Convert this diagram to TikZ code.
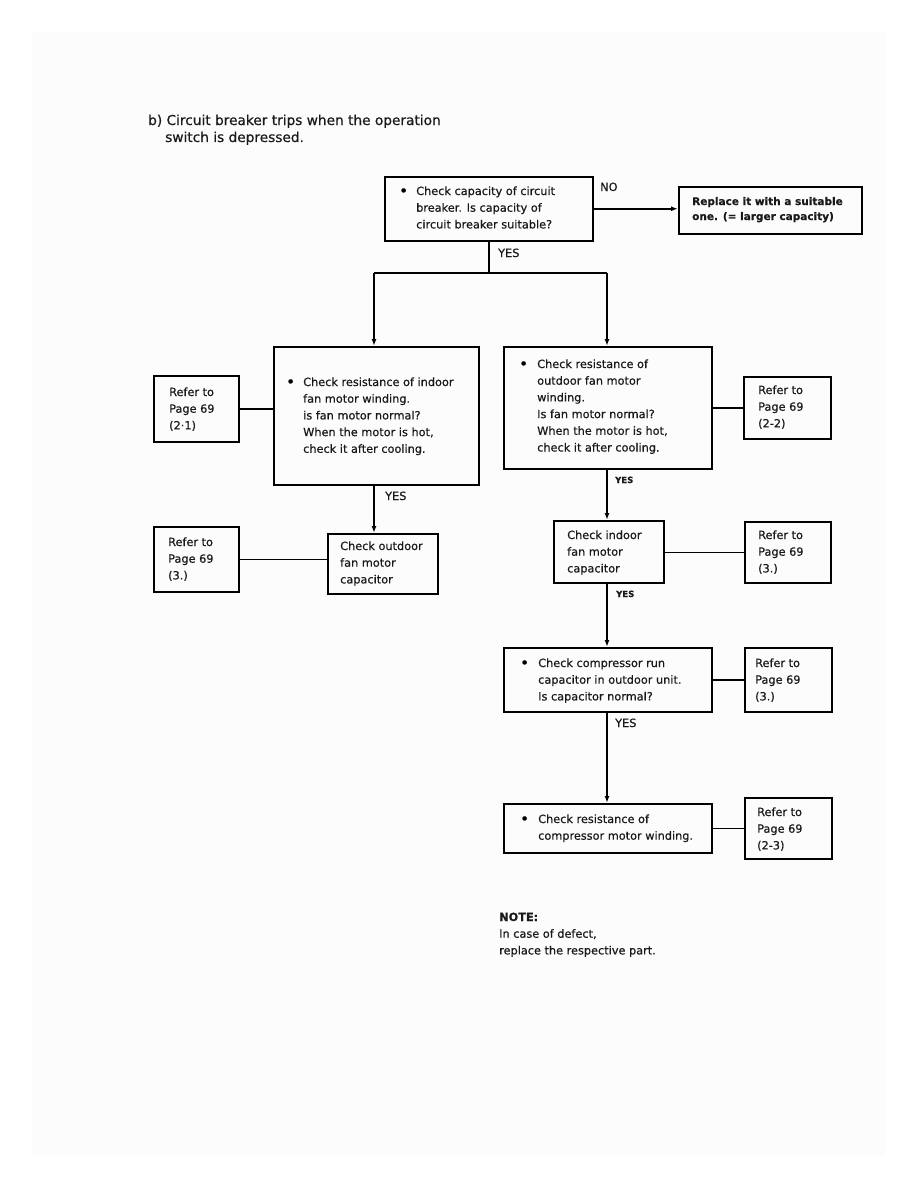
\documentclass[tikz,border=0pt]{standalone}
\usepackage{fontspec}
\setmainfont{DejaVu Sans}[FakeBold=0.5]
\usetikzlibrary{arrows.meta}
\newcommand{\mytab}[1]{\begin{tabular}[t]{@{}l@{}}#1\end{tabular}}
\tikzset{
  box/.style={draw=black, line width=1.5pt, inner sep=0pt, anchor=north west},
  txt/.style={anchor=base west, inner sep=0pt, font=\fontsize{11.3}{16.7}\selectfont, text=black!90},
  bul/.style={anchor=base west, inner sep=0pt, font=\fontsize{15}{16}\selectfont, text=black},
  bold/.style={anchor=base west, inner sep=0pt, font=\fontsize{10.5}{15}\selectfont\bfseries, text=black!90},
  small/.style={anchor=base west, inner sep=0pt, font=\fontsize{8.5}{10}\selectfont\bfseries, text=black!90},
  ttl/.style={anchor=base west, inner sep=0pt, font=\fontsize{13.7}{17}\selectfont, text=black!90},
  conn/.style={draw=black, line width=1.5pt},
  arr/.style={conn, -{Latex[length=7pt,width=5pt]}},
}
\begin{document}
\begin{tikzpicture}[x=1pt,y=-1pt]
\useasboundingbox (0,0) rectangle (918,1188);
\fill[white] (0,0) rectangle (918,1188);
\fill[black!1] (32,32) rectangle (886,1156);

% title
\node[ttl] (title) at (148,125) {\mytab{b) Circuit breaker trips when the operation\\\hspace{17pt}switch is depressed.}};

% boxes
\node[box, minimum width=208pt, minimum height=64pt] (A) at (384,176) {};
\node[box, minimum width=183pt, minimum height=47pt] (B) at (678,186) {};
\node[box, minimum width=205pt, minimum height=138pt] (C) at (273,346) {};
\node[box, minimum width=208pt, minimum height=122pt] (D) at (503,346) {};
\node[box, minimum width=110pt, minimum height=60pt] (E) at (327,533) {};
\node[box, minimum width=110pt, minimum height=62pt] (F) at (553,520) {};
\node[box, minimum width=208pt, minimum height=64pt] (G) at (503,647) {};
\node[box, minimum width=208pt, minimum height=49pt] (H) at (503,803) {};

\node[box, minimum width=85pt, minimum height=66pt] (R1) at (153,375) {};
\node[box, minimum width=85pt, minimum height=65pt] (R2) at (153,526) {};
\node[box, minimum width=87pt, minimum height=62pt] (R3) at (743,376) {};
\node[box, minimum width=86pt, minimum height=61pt] (R4) at (744,521) {};
\node[box, minimum width=87pt, minimum height=64pt] (R5) at (744,647) {};
\node[box, minimum width=87pt, minimum height=61pt] (R6) at (744,797) {};

% texts
\node[bul] (Ab) at (399,196) {•};
\node[txt] (At) at (416,195) {\mytab{Check capacity of circuit\\breaker. Is capacity of\\circuit breaker suitable?}};
\node[bold] (Bt) at (692,205) {\mytab{Replace it with a suitable\\one. (= larger capacity)}};
\node[bul] (Cb) at (286,387) {•};
\node[txt] (Ct) at (303,386) {\mytab{Check resistance of indoor\\fan motor winding.\\is fan motor normal?\\When the motor is hot,\\check it after cooling.}};
\node[bul] (Db) at (519,369) {•};
\node[txt] (Dt) at (537,368) {\mytab{Check resistance of\\outdoor fan motor\\winding.\\Is fan motor normal?\\When the motor is hot,\\check it after cooling.}};
\node[txt] (Et) at (340,550) {\mytab{Check outdoor\\fan motor\\capacitor}};
\node[txt] (Ft) at (567,539) {\mytab{Check indoor\\fan motor\\capacitor}};
\node[bul] (Gb) at (520,668) {•};
\node[txt] (Gt) at (538,667) {\mytab{Check compressor run\\capacitor in outdoor unit.\\Is capacitor normal?}};
\node[bul] (Hb) at (520,824) {•};
\node[txt] (Ht) at (538,823) {\mytab{Check resistance of\\compressor motor winding.}};

\node[txt] (R1t) at (169,396) {\mytab{Refer to\\Page 69\\(2·1)}};
\node[txt] (R2t) at (168,546) {\mytab{Refer to\\Page 69\\(3.)}};
\node[txt] (R3t) at (758,394) {\mytab{Refer to\\Page 69\\(2-2)}};
\node[txt] (R4t) at (758,539) {\mytab{Refer to\\Page 69\\(3.)}};
\node[txt] (R5t) at (755,667) {\mytab{Refer to\\Page 69\\(3.)}};
\node[txt] (R6t) at (757,816) {\mytab{Refer to\\Page 69\\(2-3)}};

% labels
\node[txt] (no) at (600,191) {NO};
\node[txt] (yes1) at (498,257) {YES};
\node[txt] (yes2) at (385,500) {YES};
\node[small] (yes3) at (615,483) {YES};
\node[small] (yes4) at (616,597) {YES};
\node[txt] (yes5) at (615,727) {YES};

% note
\node[txt] (note) at (499,921) {\mytab{\bfseries NOTE:\\In case of defect,\\replace the respective part.}};

% connectors
\coordinate (sl) at (374,273);
\coordinate (sr) at (607,273);
\coordinate (sm) at (A.south |- sl);
\draw[arr] (A.east) -- (A.east -| B.west);
\draw[conn] (A.south) -- (sm);
\draw[conn] (sl) -- (sr);
\draw[arr] (sl) -- (sl |- C.north);
\draw[arr] (sr) -- (sr |- D.north);
\draw[arr] (sl |- C.south) -- (sl |- E.north);
\draw[arr] (sr |- D.south) -- (sr |- F.north);
\draw[arr] (sr |- F.south) -- (sr |- G.north);
\draw[arr] (sr |- G.south) -- (sr |- H.north);

\draw[conn] (R1.east) -- (R1.east -| C.west);
\draw[conn] (R2.east) -- (R2.east -| E.west);
\draw[conn] (D.east |- R3.west) -- (R3.west);
\draw[conn] (F.east |- R4.west) -- (R4.west);
\draw[conn] (G.east |- R5.west) -- (R5.west);
\draw[conn] (H.east |- R6.west) -- (R6.west);
\end{tikzpicture}
\end{document}
